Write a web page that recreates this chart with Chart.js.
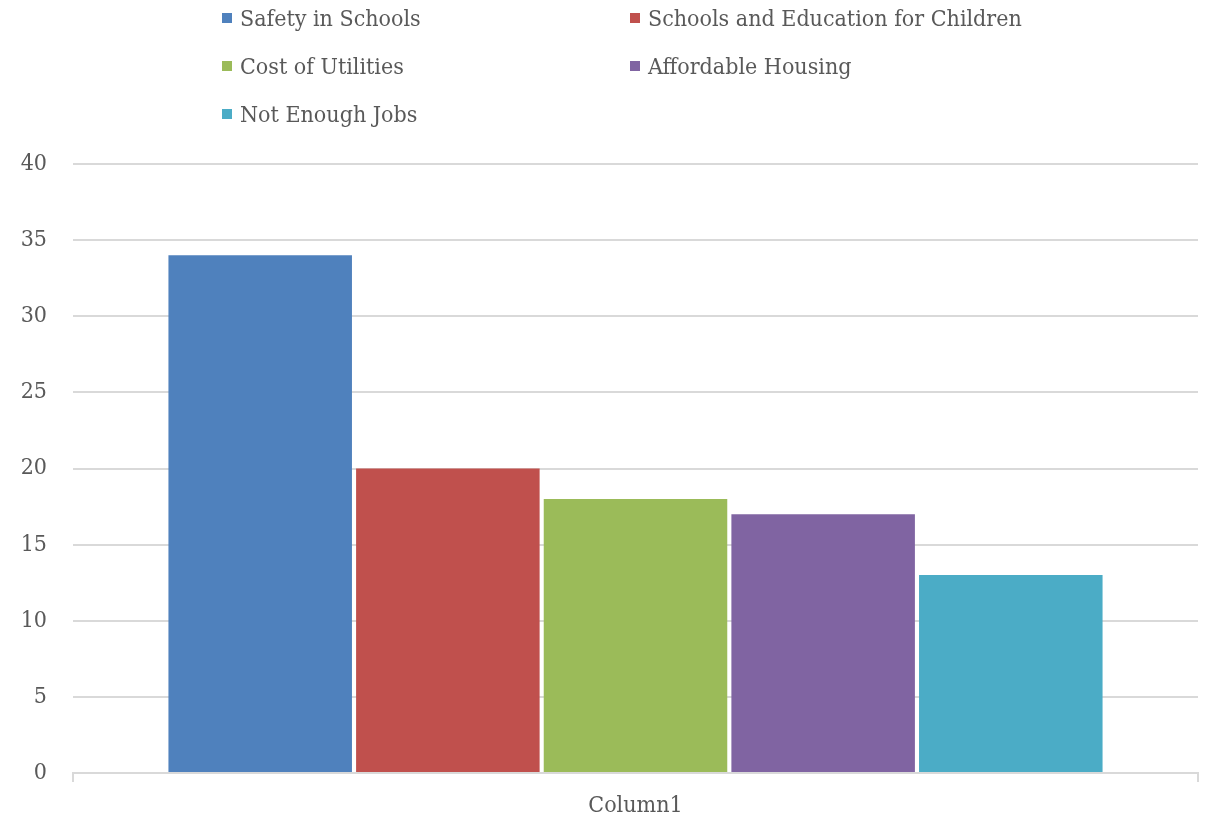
<!DOCTYPE html>
<html lang="en">
<head>
  <meta charset="UTF-8" />
  <title>Column1</title>
  <script src="https://cdn.jsdelivr.net/npm/chart.js"></script>
  <style>
    body {
      margin: 0;
      background: #ffffff;
      font-family: 'DejaVu Serif Condensed', 'DejaVu Serif', serif;
      color: #595959;
    }
    .wrap {
      position: relative;
      width: 1210px;
      height: 822px;
    }
    #legend {
      position: absolute;
      left: 222px;
      top: 4px;
      display: grid;
      grid-template-columns: 408px 408px;
      grid-auto-rows: 48px;
      font-size: 23px;
    }
    .item {
      display: flex;
      align-items: center;
      height: 28px;
    }
    .box {
      width: 10px;
      height: 10px;
      margin-right: 8px;
    }
    canvas {
      position: absolute;
      left: 0;
      top: 0;
    }
  </style>
</head>
<body>
  <div class="wrap">
    <canvas id="chart" width="1210" height="822"></canvas>
    <div id="legend"></div>
  </div>

  <script>
    const categories = ["Column1"];
    const seriesNames = ["Safety in Schools", "Schools and Education for Children", "Cost of Utilities", "Affordable Housing", "Not Enough Jobs"];
    const seriesValues = [34, 20, 18, 17, 13];
    const seriesColors = ["#4F81BD", "#C0504D", "#9BBB59", "#8064A2", "#4BACC6"];
    const yTicks = [0, 5, 10, 15, 20, 25, 30, 35, 40];

    const fontFamily = "'DejaVu Serif Condensed', 'DejaVu Serif', serif";
    const textColor = '#595959';

    // legend laid out in two columns like the original
    const legend = document.getElementById('legend');
    seriesNames.forEach((name, i) => {
      legend.innerHTML += `<div class="item"><span class="box" style="background:${seriesColors[i]}"></span>${name}</div>`;
    });

    new Chart(document.getElementById('chart'), {
      type: 'bar',
      data: {
        labels: categories,
        datasets: seriesNames.map((name, i) => ({
          label: name,
          data: [seriesValues[i]],
          backgroundColor: seriesColors[i],
          borderWidth: 0,
          categoryPercentage: 0.834,
          barPercentage: 0.978
        }))
      },
      options: {
        responsive: false,
        animation: false,
        layout: { padding: { top: 164, right: 12, bottom: 0, left: 0 } },
        plugins: {
          legend: { display: false },
          tooltip: { enabled: false }
        },
        scales: {
          x: {
            afterFit: s => { s.height = 49; },
            grid: { display: true, drawOnChartArea: false, color: '#d9d9d9', tickLength: 9, lineWidth: 2 },
            border: { color: '#d9d9d9', width: 2 },
            ticks: { color: textColor, font: { family: fontFamily, size: 23 }, padding: 10 }
          },
          y: {
            min: 0,
            max: 40,
            afterFit: s => { s.width = 73; },
            afterBuildTicks: s => { s.ticks = yTicks.map(v => ({ value: v })); },
            grid: { color: '#d9d9d9', lineWidth: 2, drawTicks: false },
            border: { display: false },
            ticks: { color: textColor, font: { family: fontFamily, size: 23 }, padding: 26 }
          }
        }
      }
    });
  </script>
</body>
</html>
